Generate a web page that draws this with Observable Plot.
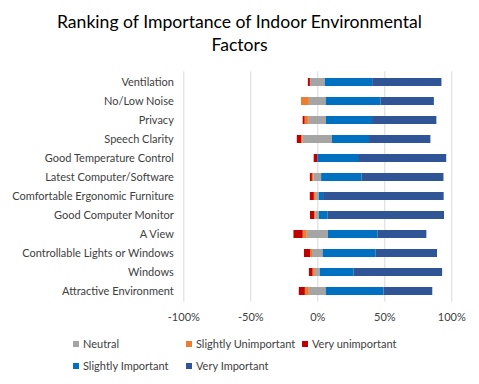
<!DOCTYPE html>
<html>
<head>
<meta charset="utf-8">
<script src="https://cdn.jsdelivr.net/npm/d3@7"></script>
<script src="https://cdn.jsdelivr.net/npm/@observablehq/plot@0.6"></script>
<style>
  html, body { margin: 0; padding: 0; background: #fff; }
  #wrap { position: relative; width: 479px; height: 384px; overflow: hidden; font-family: Lato, "Open Sans", sans-serif; }
  #title { position: absolute; left: 0; top: 10px; width: 479px; text-align: center; font-size: 17.6px; line-height: 23px; color: #000; }
  #chart { position: absolute; left: 0; top: 62px; }
  .lg { position: absolute; font-size: 11px; color: #404040; white-space: nowrap; line-height: 14px; }
  .lg i { display: inline-block; width: 6px; height: 6px; margin-right: 4px; vertical-align: 1px; }
</style>
</head>
<body>
<div id="wrap">
  <div id="title">Ranking of Importance of Indoor Environmental<br>Factors</div>
  <div id="chart"></div>
  <div id="legend"></div>
</div>
<script>
const categories = ["Ventilation","No/Low Noise","Privacy","Speech Clarity","Good Temperature Control","Latest Computer/Software","Comfortable Ergonomic Furniture","Good Computer Monitor","A View","Controllable Lights or Windows","Windows","Attractive Environment"];
const neutral             = [11.1, 12.6, 12.9, 21.8, 0,    5.7,  2.2,  2.5,  15.8, 7.9,  3.7,  12.6];
const slightlyUnimportant = [0,    5.9,  3.0,  1.2,  0,    1.2,  1.5,  1.2,  3.0,  1.5,  1.7,  3.0];
const veryUnimportant     = [1.5,  0,    1.5,  3.2,  2.7,  1.5,  3.0,  3.0,  6.9,  4.5,  2.7,  4.5];
const slightlyImportant   = [35.4, 40.8, 34.4, 27.7, 30.4, 30.2, 3.2,  6.5,  36.9, 39.6, 25.2, 43.1];
const veryImportant       = [51.7, 39.9, 48.0, 45.8, 65.8, 61.1, 90.0, 86.8, 36.6, 45.8, 66.1, 36.4];
const xTicks = [-100, -50, 0, 50, 100];
const seriesNames = ["Neutral", "Slightly Unimportant", "Very unimportant", "Slightly Important", "Very Important"];
const seriesColors = ["#a5a5a5", "#ed7d31", "#c00000", "#0070c0", "#2f5597"];

// build diverging segments (neutral split around zero)
const segments = [];
categories.forEach((c, i) => {
  const h = neutral[i] / 2;
  segments.push({category: c, series: "Neutral", x1: -h, x2: h});
  let a = -h;
  segments.push({category: c, series: "Slightly Unimportant", x1: a - slightlyUnimportant[i], x2: a});
  a -= slightlyUnimportant[i];
  segments.push({category: c, series: "Very unimportant", x1: a - veryUnimportant[i], x2: a});
  let b = h;
  segments.push({category: c, series: "Slightly Important", x1: b, x2: b + slightlyImportant[i]});
  b += slightlyImportant[i];
  segments.push({category: c, series: "Very Important", x1: b, x2: b + veryImportant[i]});
});
const segs = segments.filter(d => d.x2 - d.x1 > 0);

const plot = Plot.plot({
  width: 479,
  height: 270,
  marginLeft: 183.3,
  marginRight: 27.7,
  marginTop: 9.4,
  marginBottom: 30.4,
  style: {fontFamily: "Lato, 'Open Sans', sans-serif", fontSize: "11px", color: "#404040", background: "transparent"},
  x: {domain: [-100, 100], ticks: xTicks, tickFormat: d => d + "%", tickSize: 0, tickPadding: 11, label: null},
  y: {domain: categories, paddingInner: 0.58, paddingOuter: 0.29, tickSize: 0, tickPadding: 10, label: null},
  color: {domain: seriesNames, range: seriesColors},
  marks: [
    Plot.ruleX(xTicks, {stroke: "#d9d9d9", strokeWidth: 1}),
    Plot.barX(segs, {x1: "x1", x2: "x2", y: "category", fill: "series", inset: 0})
  ]
});
document.getElementById("chart").appendChild(plot);

// legend
const legendPos = [
  {left: 73, top: 337}, {left: 186, top: 337}, {left: 302, top: 337},
  {left: 73, top: 359}, {left: 186, top: 359}
];
const lg = document.getElementById("legend");
seriesNames.forEach((s, i) => {
  const d = document.createElement("div");
  d.className = "lg";
  d.style.left = legendPos[i].left + "px";
  d.style.top = legendPos[i].top + "px";
  const sw = document.createElement("i");
  sw.style.background = seriesColors[i];
  d.appendChild(sw);
  d.appendChild(document.createTextNode(s));
  lg.appendChild(d);
});
</script>
</body>
</html>
